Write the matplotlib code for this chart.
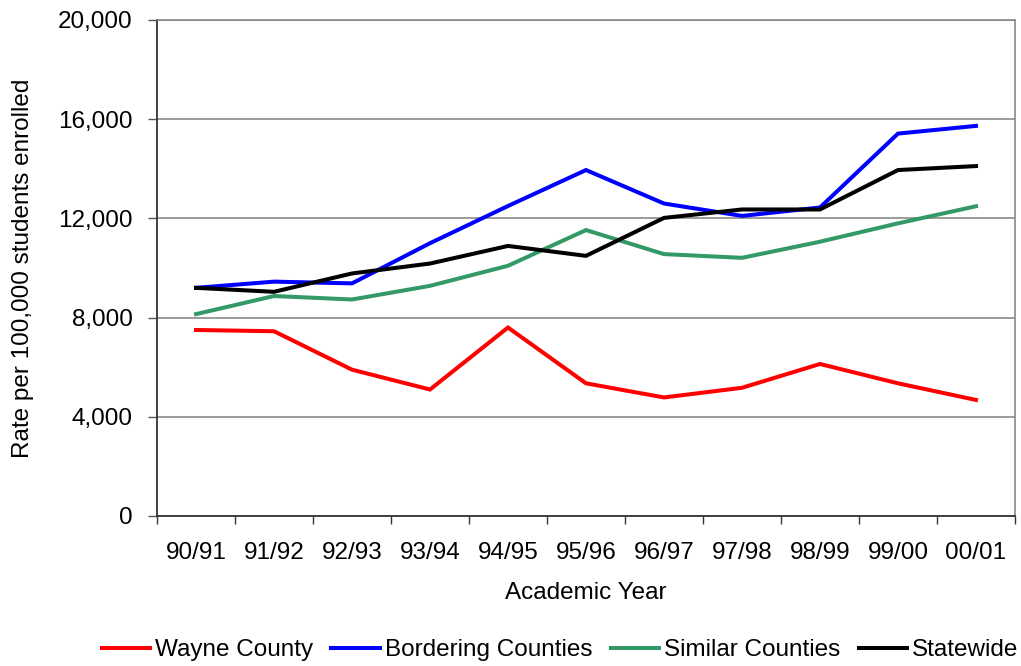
import matplotlib.pyplot as plt
from matplotlib.ticker import FuncFormatter, FixedLocator

plt.rcParams["font.family"] = ["Liberation Sans", "DejaVu Sans"]

years = ["90/91", "91/92", "92/93", "93/94", "94/95", "95/96",
         "96/97", "97/98", "98/99", "99/00", "00/01"]

wayne = [7500, 7450, 5900, 5100, 7600, 5350, 4780, 5170, 6130, 5350, 4680]
bordering = [9200, 9450, 9380, 11000, 12500, 13950, 12600, 12100, 12440, 15420, 15730]
similar = [8140, 8870, 8730, 9280, 10090, 11530, 10560, 10410, 11060, 11800, 12490]
statewide = [9200, 9040, 9780, 10180, 10890, 10490, 12020, 12360, 12360, 13950, 14110]

series = [
    ("Wayne County", wayne, "#ff0000"),
    ("Bordering Counties", bordering, "#0000ff"),
    ("Similar Counties", similar, "#339966"),
    ("Statewide", statewide, "#000000"),
]

FS = 17.5

fig = plt.figure(figsize=(10.21, 6.66), dpi=100)
ax = fig.add_axes([157 / 1021, 1 - 516 / 666, (1015 - 157) / 1021, (516 - 20) / 666])

x = list(range(len(years)))
for name, vals, color in series:
    ax.plot(x, vals, color=color, linewidth=2.9, label=name, solid_joinstyle="miter")

ax.set_xlim(-0.5, len(years) - 0.5)
ax.set_ylim(0, 20000)
ax.set_yticks(range(0, 20001, 4000))
ax.yaxis.set_major_formatter(FuncFormatter(lambda v, _: f"{int(v):,}"))
ax.yaxis.grid(True, color="#808080", linewidth=1.1)
ax.set_axisbelow(True)

# category labels sit between the tick marks
ax.set_xticks(x)
ax.set_xticklabels(years)
ax.xaxis.set_minor_locator(FixedLocator([i - 0.5 for i in range(len(years) + 1)]))
ax.tick_params(axis="x", which="major", length=0, pad=19, labelsize=FS)
ax.tick_params(axis="x", which="minor", length=6, width=1.0, color="#333333")
ax.tick_params(axis="y", length=6.5, width=1.0, color="#555555", pad=11, labelsize=FS)

for side in ("top", "right"):
    ax.spines[side].set_color("#808080")
    ax.spines[side].set_linewidth(1.1)
for side in ("left", "bottom"):
    ax.spines[side].set_color("#333333")
    ax.spines[side].set_linewidth(1.3)

ax.set_xlabel("Academic Year", fontsize=FS, labelpad=13)
ax.set_ylabel("Rate per 100,000 students enrolled", fontsize=FS, labelpad=17)

fig.legend(loc="center", bbox_to_anchor=(560 / 1021, 1 - 650 / 666), ncol=4,
           frameon=False, fontsize=FS, handlelength=2.0, handletextpad=0.2,
           columnspacing=0.75, borderaxespad=0)

fig.savefig("out.png", dpi=100)
